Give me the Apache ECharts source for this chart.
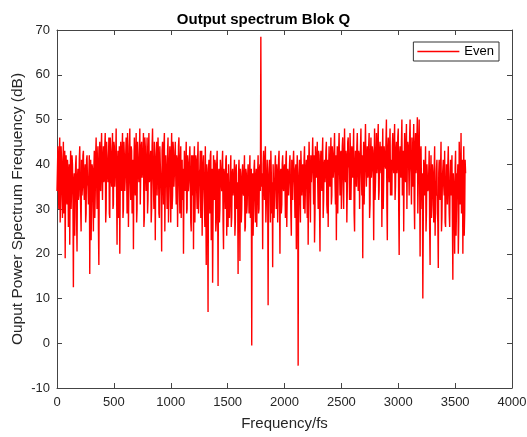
<!DOCTYPE html>
<html>
<head>
<meta charset="utf-8">
<script src="https://cdn.jsdelivr.net/npm/echarts@6/dist/echarts.min.js"></script>
<style>
html,body{margin:0;padding:0;background:#fff;}
#chart{width:527px;height:437px;}
</style>
</head>
<body>
<div id="chart"></div>
<script>
// Frequency grid (fs units): bins are read every 4 fs, alternating between the two arrays below
var freqStart = 0;
var freqStep = 8;      // spacing inside each array
var freqOffset = 4;    // offset of the in-between bins
// Power (dB) at bins 0, 8, 16, ...
var evenPowerA = [
 34, 44, 30, 46, 33, 41, 28, 45, 36, 19,
 42, 31, 39, 27, 22, 43, 34, 40, 12.5, 38,
 36, 42, 20.5, 39, 33, 44, 30, 41, 35, 43,
 32, 40, 29, 42, 35, 38, 15.5, 41, 31, 39,
 25, 43, 33, 46, 30, 44, 17.5, 45, 34, 47,
 32, 44, 37, 47, 30, 42, 36, 46, 28, 43,
 35, 47, 31, 44, 38, 48, 22, 43, 33, 20,
 45, 34, 47, 30, 42, 37, 46, 29, 44, 35,
 48, 32, 43, 38, 21, 46, 33, 47, 30, 41,
 36, 48, 31, 45, 39, 47, 28, 44, 34, 46,
 32, 47, 37, 43, 30, 48, 35, 45, 23, 42,
 33, 46, 29, 44, 37, 20.5, 45, 31, 47, 35,
 42, 30, 46, 36, 44, 27, 47, 33, 43, 38,
 45, 31, 41, 35, 46, 29, 44, 37, 32, 20,
 43, 34, 45, 30, 40, 36, 44, 27, 42, 33,
 21, 44, 35, 41, 30, 45, 33, 39, 28, 43,
 34, 42, 31, 44, 17.5, 38, 7, 41, 29, 43,
 36, 13.5, 42, 32, 40, 27, 43, 12.8, 39, 30,
 41, 34, 43, 21, 38, 30, 42, 35, 26, 40,
 32, 42, 28, 39, 35, 41, 27, 40, 33, 15.5,
 41, 18.4, 37, 30, 40, 33, 42, 26, 38, 31,
 40, 29, 42, 34, -0.5, 38, 31, 41, 27, 39,
 33, 42, 30, 40, 68.5, 35, 21, 43, 32, 44,
 31, 41, 8.5, 39, 34, 43, 29, 17, 40, 33,
 42, 30, 38, 35, 43, 20, 39, 31, 42, 34,
 40, 28, 43, 33, 38, 36, 42, 29, 41, 32,
 43, 35, 39, 21, 42, -5, 37, 31, 43, 33,
 40, 30, 44, 35, 41, 28, 22, 45, 33, 42,
 36, 46, 31, 22.5, 44, 37, 45, 30, 42, 20.5,
 43, 34, 46, 32, 41, 38, 45, 29, 26, 44,
 35, 46, 33, 42, 39, 47, 31, 23, 44, 37,
 47, 33, 43, 38, 46, 30, 48, 36, 42, 34,
 46, 39, 47, 32, 44, 37, 48, 25, 43, 35,
 47, 34, 42, 39, 48, 33, 19, 45, 37, 49,
 35, 44, 38, 47, 31, 46, 39, 43, 23, 48,
 36, 47, 40, 49, 34, 45, 38, 26, 48, 37,
 44, 39, 50, 23, 46, 36, 48, 41, 33, 47,
 38, 49, 35, 45, 40, 48, 19.7, 44, 37, 50,
 39, 25, 47, 36, 49, 41, 44, 33, 50, 38,
 46, 35, 49, 25.5, 47, 40, 50.5, 36, 50, 19.4,
 44, 30, 10, 41, 33, 44, 29, 40, 35, 43,
 17.5, 42, 31, 38, 27, 44, 34, 39, 29, 16.8,
 41, 32, 45, 28, 39, 35, 43, 26, 40, 31,
 44, 29, 37, 33, 42, 14.2, 38, 20, 43, 30,
 36, 20, 45, 31, 47, 33, 20, 44, 29, 38
];
// Power (dB) at bins 4, 12, 20, ...
var evenPowerB = [
 39, 35, 42, 27, 44, 34, 40, 29, 43, 38,
 33, 41, 26, 40, 37, 30, 42, 33, 36, 24,
 40, 28, 37, 32, 41, 36, 25, 33, 42, 35,
 38, 27, 41, 36, 31, 42, 34, 23, 40, 33,
 39, 28, 42, 37, 41, 26, 40, 36, 43, 38,
 41, 36, 44, 27, 45, 38, 40, 29, 46, 37,
 42, 30, 45, 35, 41, 34, 40, 28, 44, 36,
 39, 43, 28, 45, 34, 42, 38, 47, 26, 41,
 37, 44, 29, 41, 39, 36, 43, 27, 45, 38,
 42, 31, 44, 37, 42, 26, 46, 38, 40, 29,
 43, 36, 41, 27, 44, 39, 30, 41, 38, 45,
 39, 42, 28, 40, 33, 43, 38, 44, 25, 42,
 36, 43, 27, 40, 35, 42, 30, 45, 35, 41,
 37, 42, 26, 44, 36, 40, 28, 41, 39, 35,
 38, 40, 29, 42, 34, 41, 38, 25, 36, 42,
 39, 27, 42, 34, 41, 29, 38, 43, 35, 24,
 40, 35, 26, 33, 40, 28, 39, 35, 42, 23,
 39, 29, 37, 41, 25, 40, 33, 38, 27, 41,
 36, 40, 27, 39, 35, 41, 24, 38, 40, 28,
 37, 26, 38, 33, 37, 24, 39, 30, 36, 38,
 35, 39, 27, 38, 34, 37, 25, 39, 29, 37,
 36, 38, 28, 39, 36, 24, 39, 33, 37, 26,
 38, 29, 39, 34, 36, 38, 40, 36, 41, 27,
 37, 35, 36, 41, 27, 38, 36, 40, 28, 39,
 36, 40, 27, 41, 33, 38, 29, 40, 35, 39,
 36, 41, 26, 39, 33, 40, 36, 24, 35, 40,
 38, 28, 40, 36, 38, 35, 41, 27, 39, 37,
 36, 41, 29, 39, 35, 42, 37, 40, 27, 36,
 41, 38, 42, 29, 39, 41, 36, 43, 30, 40,
 38, 42, 28, 40, 36, 43, 31, 41, 39, 37,
 40, 31, 44, 37, 43, 36, 42, 39, 29, 43,
 39, 42, 30, 44, 36, 41, 38, 43, 27, 45,
 40, 32, 43, 38, 41, 42, 29, 40, 39, 44,
 39, 43, 30, 44, 38, 42, 40, 31, 43, 40,
 41, 37, 44, 28, 42, 37, 44, 38, 41, 32,
 42, 38, 45, 32, 43, 40, 44, 41, 30, 44,
 40, 45, 31, 43, 41, 44, 33, 37, 44, 40,
 44, 32, 43, 38, 46, 30, 42, 40, 45, 33,
 43, 39, 41, 44, 30, 45, 39, 46, 40, 31,
 41, 43, 32, 44, 38, 46, 29, 45, 37, 42,
 36, 38, 27, 39, 37, 25, 40, 34, 38, 26,
 37, 28, 40, 34, 39, 24, 33, 41, 27, 38,
 36, 39, 25, 37, 41, 33, 27, 35, 37, 40,
 35, 26, 41, 36, 28, 38, 33, 39, 24, 38,
 40, 27, 39, 37, 29, 41, 35, 24, 41
];
var seriesName = 'Even';
var xTicks = {min: 0, max: 4000, interval: 500};
var yTicks = {min: -10, max: 70, interval: 10};
var titleText = 'Output spectrum Blok Q';
var xLabel = 'Frequency/fs';
var yLabel = 'Ouput Power Spectrum Frequency (dB)';

var pts = [];
for (var i = 0; i < evenPowerA.length; i++) {
  pts.push([freqStart + i * freqStep, evenPowerA[i]]);
  if (i < evenPowerB.length) pts.push([freqStart + i * freqStep + freqOffset, evenPowerB[i]]);
}

var axisColor = '#444';
var textColor = '#262626';
var font = 'Liberation Sans, Arial, sans-serif';
var plainNum = function (v) { return String(v); };

function baseAxis(extra) {
  var a = {
    type: 'value',
    axisLine: {show: true, onZero: false, lineStyle: {color: axisColor, width: 1}},
    axisTick: {show: true, inside: true, length: 5, lineStyle: {color: axisColor}},
    splitLine: {show: false},
    axisLabel: {color: textColor, fontSize: 13, fontFamily: font, formatter: plainNum}
  };
  for (var k in extra) a[k] = extra[k];
  return a;
}

var chart = echarts.init(document.getElementById('chart'), null, {renderer: 'canvas'});
chart.setOption({
  animation: false,
  backgroundColor: '#fff',
  title: {
    text: titleText, left: 'center', top: 7,
    textStyle: {fontSize: 15, fontWeight: 'bold', color: '#000', fontFamily: font}
  },
  grid: {left: 57, right: 15, top: 30, bottom: 49, containLabel: false, outerBoundsMode: 'none'},
  legend: {
    data: [seriesName], right: 28, top: 42, orient: 'vertical',
    icon: 'rect', itemWidth: 42, itemHeight: 1.5, itemGap: 0,
    padding: [3, 5, 3, 4],
    borderColor: '#333', borderWidth: 1, backgroundColor: '#fff',
    textStyle: {fontSize: 13, color: '#000', fontFamily: font}
  },
  xAxis: [
    baseAxis({min: xTicks.min, max: xTicks.max, interval: xTicks.interval, position: 'bottom',
      name: xLabel, nameLocation: 'middle', nameGap: 28, nameMoveOverlap: false,
      nameTextStyle: {fontSize: 15, color: textColor, fontFamily: font},
      axisLabel: {color: textColor, fontSize: 13, fontFamily: font, margin: 8, formatter: plainNum}}),
    baseAxis({min: xTicks.min, max: xTicks.max, interval: xTicks.interval, position: 'top',
      axisLabel: {show: false}})
  ],
  yAxis: [
    baseAxis({min: yTicks.min, max: yTicks.max, interval: yTicks.interval, position: 'left',
      name: yLabel, nameLocation: 'middle', nameGap: 31, nameMoveOverlap: false,
      nameTextStyle: {fontSize: 15.5, color: textColor, fontFamily: font},
      axisLabel: {color: textColor, fontSize: 13, fontFamily: font, margin: 7, formatter: plainNum}}),
    baseAxis({min: yTicks.min, max: yTicks.max, interval: yTicks.interval, position: 'right',
      axisLabel: {show: false}})
  ],
  series: [{
    name: seriesName, type: 'line', data: pts,
    showSymbol: false, symbol: 'none', sampling: null,
    lineStyle: {color: '#ff0000', width: 1.4},
    itemStyle: {color: '#ff0000'},
    xAxisIndex: 0, yAxisIndex: 0
  }]
});
</script>
</body>
</html>
